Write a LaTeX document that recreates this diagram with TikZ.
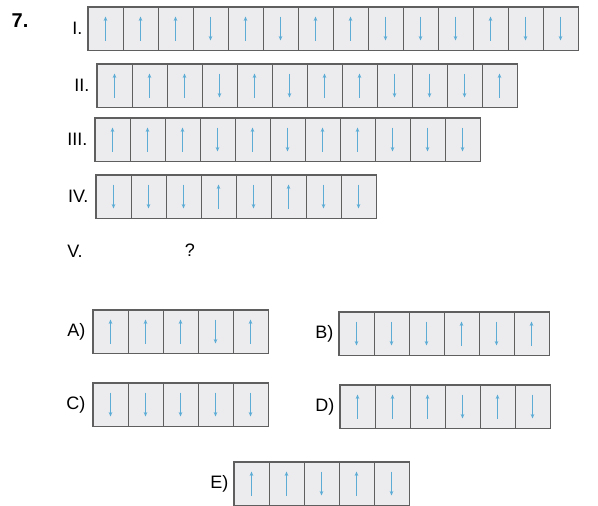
\documentclass[tikz,border=0pt]{standalone}
\usepackage{fontspec}
\setmainfont{Liberation Sans}
\usepackage{tikz}
\usetikzlibrary{positioning, arrows.meta}
\usepackage{xcolor}
\definecolor{spinblue}{RGB}{92, 172, 214}
\definecolor{cellgray}{RGB}{236, 236, 238}
\definecolor{framegray}{RGB}{95, 95, 95}

\tikzset{
  spincell/.style={draw=framegray, line width=0.8pt, fill=cellgray, minimum width=35pt, minimum height=43pt, inner sep=0pt},
  rowframe/.style={draw=framegray, line width=1.4pt},
  spin/.style={-{Stealth[length=4.5pt, width=3.6pt]}, spinblue, line width=1.2pt},
  lbl/.style={font=\fontsize{18}{20}\selectfont, inner sep=0pt}
}

% #1 row name, #2 left x, #3 top y, #4 number of cells, #5 spins (1 up, -1 down)
\newcommand{\spinrow}[5]{%
  \foreach \s [count=\i] in {#5} {
    \node[spincell] (#1-\i) at ({#2+(\i-0.5)*35}, {-(#3+21.5)}) {};
    \draw[spin] ([yshift={-12*\s}]#1-\i.center) -- ([yshift={12*\s}]#1-\i.center);
  }
  \draw[rowframe] (#1-1.north west) rectangle (#1-#4.south east);
}

\begin{document}
\begin{tikzpicture}[x=1pt, y=1pt, >=Stealth]
  \useasboundingbox (0,0) rectangle (598,-506);

  % question rows
  \spinrow{I}{88}{7}{14}{1,1,1,-1,1,-1,1,1,-1,-1,-1,1,-1,-1}
  \spinrow{II}{97}{64}{12}{1,1,1,-1,1,-1,1,1,-1,-1,-1,1}
  \spinrow{III}{95}{118}{11}{1,1,1,-1,1,-1,1,1,-1,-1,-1}
  \spinrow{IV}{96}{175}{8}{-1,-1,-1,1,-1,1,-1,-1}

  \node[lbl, font=\fontsize{20}{22}\selectfont\bfseries] (num) at (20,-21) {7.};
  \node[lbl, left=5pt of I-1.west] (labI) {I.};
  \node[lbl, left=7pt of II-1.west] (labII) {II.};
  \node[lbl, left=7pt of III-1.west] (labIII) {III.};
  \node[lbl, left=7pt of IV-1.west] (labIV) {IV.};
  \node[lbl] (labV) at (75,-251) {V.};
  \node[lbl] (qmark) at (190,-250) {?};

  % answer choices
  \spinrow{A}{93}{310}{5}{1,1,1,-1,1}
  \spinrow{B}{339}{312}{6}{-1,-1,-1,1,-1,1}
  \spinrow{C}{93}{383}{5}{-1,-1,-1,-1,-1}
  \spinrow{D}{340}{385}{6}{1,1,1,-1,1,-1}
  \spinrow{E}{234}{462}{5}{1,1,-1,1,-1}

  \node[lbl, left=7pt of A-1.west] (labA) {A)};
  \node[lbl, left=5pt of B-1.west] (labB) {B)};
  \node[lbl, left=7pt of C-1.west] (labC) {C)};
  \node[lbl, left=5pt of D-1.west] (labD) {D)};
  \node[lbl, left=5pt of E-1.west] (labE) {E)};
\end{tikzpicture}
\end{document}
